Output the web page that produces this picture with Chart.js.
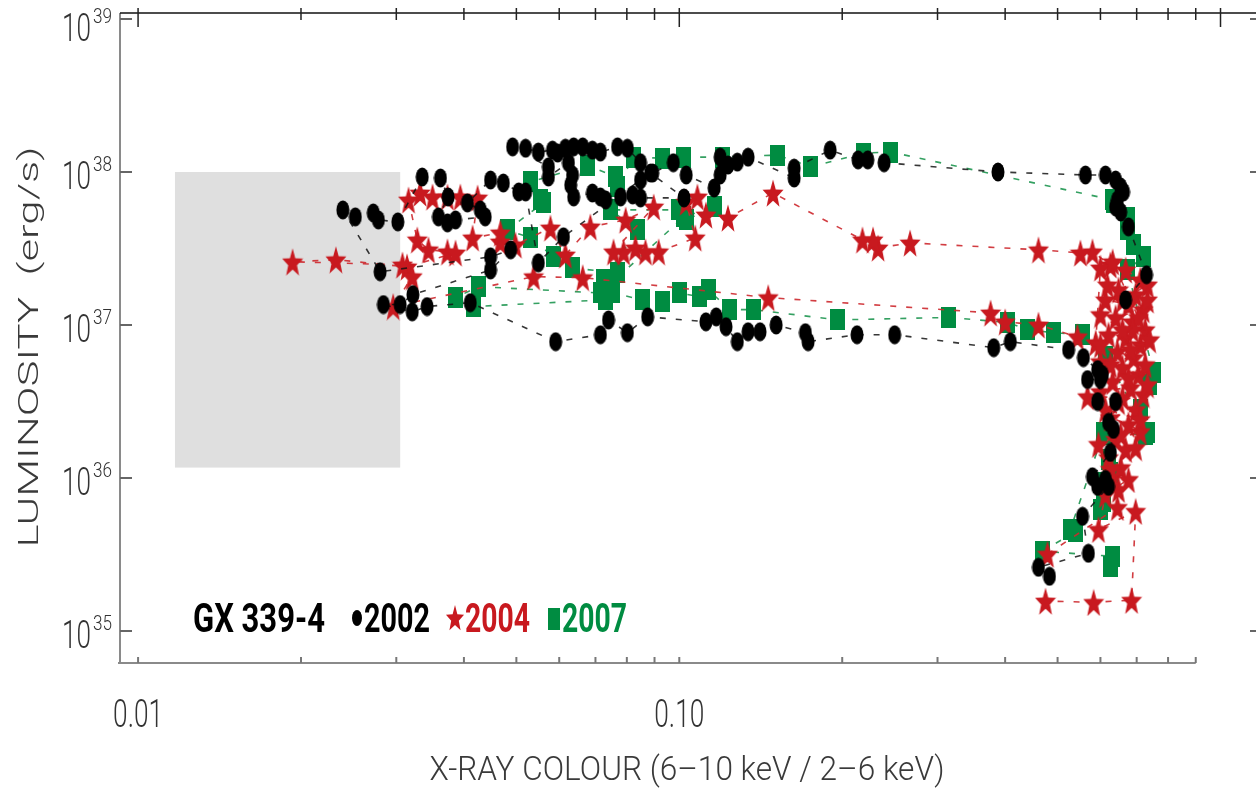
<!DOCTYPE html>
<html lang="en">
<head>
<meta charset="UTF-8" />
<title>GX 339-4 hardness-luminosity</title>
<script src="https://cdn.jsdelivr.net/npm/chart.js@4.4.0/dist/chart.umd.min.js"></script>
<style>
  html, body { margin: 0; background: #fff; overflow: hidden; }
  canvas { display: block; }
</style>
</head>
<body>
<canvas id="chart" width="1256" height="790"></canvas>
<script>
// X-ray colour (6-10 keV / 2-6 keV) and luminosity (erg/s)
const colour2002 = [0.668, 0.730, 0.676, 0.654, 0.640, 0.645, 0.662, 0.654, 0.640, 0.613, 0.563, 0.388, 0.239, 0.223, 0.214, 0.190, 0.163, 0.163, 0.134, 0.128,
  0.123, 0.119, 0.119, 0.116, 0.103, 0.0975, 0.0893, 0.0848, 0.0802, 0.0769, 0.0715, 0.0691, 0.0663, 0.0638, 0.0616, 0.0596, 0.0583, 0.0549, 0.0520, 0.0492,
  0.0573, 0.0573, 0.0624, 0.0635, 0.0630, 0.0638, 0.0691, 0.0715, 0.0731, 0.0779, 0.0820, 0.0848, 0.102, 0.0885, 0.0848, 0.0611, 0.0549, 0.0520, 0.0505, 0.0473,
  0.0448, 0.0406, 0.0429, 0.0438, 0.0386, 0.0373, 0.0359, 0.0374, 0.0362, 0.0335, 0.0302, 0.0278, 0.0272, 0.0252, 0.0239, 0.0280, 0.0448, 0.0488, 0.0448, 0.0322,
  0.0305, 0.0284, 0.0321, 0.0342, 0.0411, 0.0591, 0.0715, 0.0740, 0.0802, 0.0874, 0.112, 0.117, 0.122, 0.128, 0.134, 0.141, 0.151, 0.171, 0.173, 0.213,
  0.250, 0.381, 0.409, 0.524, 0.558, 0.593, 0.605, 0.568, 0.600, 0.593, 0.640, 0.621, 0.634, 0.626, 0.580, 0.613, 0.593, 0.621, 0.556, 0.570,
  0.461, 0.483]
const lum2002 = [1.46e37, 2.13e37, 4.38e37, 5.48e37, 5.91e37, 6.57e37, 7.41e37, 7.98e37, 8.87e37, 9.56e37, 9.56e37, 1.00e38, 1.15e38, 1.20e38, 1.20e38, 1.39e38, 1.06e38, 9.14e37, 1.25e38, 1.16e38,
  1.11e38, 1.25e38, 9.56e37, 7.86e37, 9.56e37, 1.15e38, 9.85e37, 1.15e38, 1.43e38, 1.46e38, 1.35e38, 1.39e38, 1.46e38, 1.46e38, 1.43e38, 1.33e38, 1.39e38, 1.35e38, 1.43e38, 1.46e38,
  1.08e38, 9.28e37, 1.15e38, 9.56e37, 8.23e37, 6.87e37, 7.29e37, 6.87e37, 6.57e37, 6.87e37, 7.08e37, 6.77e37, 6.77e37, 9.85e37, 8.87e37, 3.77e37, 2.55e37, 7.41e37, 7.41e37, 8.48e37,
  8.87e37, 6.28e37, 5.65e37, 5.09e37, 4.86e37, 4.65e37, 5.09e37, 6.87e37, 9.14e37, 9.28e37, 4.72e37, 4.86e37, 5.40e37, 5.09e37, 5.65e37, 2.23e37, 2.79e37, 3.10e37, 2.29e37, 1.58e37,
  1.36e37, 1.36e37, 1.22e37, 1.32e37, 1.40e37, 7.78e36, 8.64e36, 1.08e37, 8.91e36, 1.13e37, 1.05e37, 1.13e37, 9.75e36, 7.78e36, 9.04e36, 9.04e36, 1.00e37, 8.91e36, 7.78e36, 8.64e36,
  8.64e36, 7.11e36, 7.78e36, 6.90e36, 6.12e36, 5.11e36, 4.74e36, 4.40e36, 4.40e36, 3.16e36, 3.16e36, 2.31e36, 2.08e36, 1.47e36, 1.02e36, 9.79e35, 8.82e35, 8.82e35, 5.62e35, 3.22e35,
  2.61e35, 2.28e35]

const colour2004 = [0.479, 0.645, 0.648, 0.632, 0.654, 0.621, 0.668, 0.640, 0.711, 0.676, 0.626, 0.697, 0.648, 0.720, 0.682, 0.632, 0.705, 0.659, 0.600, 0.691,
  0.645, 0.711, 0.668, 0.621, 0.726, 0.688, 0.640, 0.720, 0.676, 0.613, 0.697, 0.648, 0.711, 0.668, 0.626, 0.580, 0.551, 0.461, 0.267, 0.233,
  0.228, 0.218, 0.149, 0.123, 0.112, 0.108, 0.103, 0.107, 0.0916, 0.0866, 0.0830, 0.0789, 0.0756, 0.0897, 0.0796, 0.0685, 0.0616, 0.0578, 0.0498, 0.0467,
  0.0467, 0.0415, 0.0424, 0.0394, 0.0373, 0.0350, 0.0332, 0.0316, 0.0328, 0.0344, 0.0373, 0.0386, 0.0314, 0.0232, 0.0193, 0.0308, 0.0321, 0.0296, 0.0538, 0.0663,
  0.146, 0.376, 0.400, 0.461, 0.544, 0.588, 0.600, 0.632, 0.705, 0.733, 0.659, 0.618, 0.733, 0.688, 0.600, 0.659, 0.600, 0.740, 0.682, 0.626,
  0.726, 0.676, 0.733, 0.600, 0.568, 0.659, 0.613, 0.711, 0.654, 0.595, 0.697, 0.626, 0.676, 0.613, 0.595, 0.697, 0.685, 0.583, 0.475]
const lum2004 = [3.18e35, 6.43e35, 8.43e35, 1.01e36, 1.17e36, 1.36e36, 1.54e36, 1.79e36, 2.01e36, 2.24e36, 2.48e36, 2.80e36, 3.16e36, 3.51e36, 3.90e36, 4.27e36, 4.74e36, 5.27e36, 5.76e36, 6.12e36,
  6.70e36, 7.44e36, 8.26e36, 8.64e36, 9.32e36, 1.05e37, 1.12e37, 1.26e37, 1.36e37, 1.46e37, 1.58e37, 1.70e37, 1.97e37, 2.29e37, 2.47e37, 3.01e37, 2.96e37, 3.10e37, 3.44e37, 3.19e37,
  3.60e37, 3.60e37, 7.29e37, 5.01e37, 5.24e37, 6.87e37, 6.37e37, 3.71e37, 3.01e37, 3.01e37, 3.19e37, 3.01e37, 3.01e37, 5.91e37, 4.86e37, 4.38e37, 2.87e37, 4.31e37, 3.34e37, 3.49e37,
  4.00e37, 3.71e37, 6.77e37, 6.87e37, 6.87e37, 6.87e37, 7.29e37, 6.57e37, 3.60e37, 3.10e37, 3.01e37, 2.96e37, 2.40e37, 2.67e37, 2.59e37, 2.47e37, 2.07e37, 1.32e37, 2.07e37, 2.04e37,
  1.51e37, 1.20e37, 1.05e37, 1.00e37, 8.38e36, 7.66e36, 2.36e37, 2.59e37, 1.12e37, 1.83e37, 1.46e37, 1.83e37, 1.46e37, 9.32e36, 7.44e36, 9.32e36, 1.17e37, 8.02e36, 6.90e36, 5.51e36,
  5.51e36, 4.53e36, 4.08e36, 3.67e36, 3.40e36, 3.36e36, 2.80e36, 2.41e36, 1.93e36, 1.66e36, 1.58e36, 1.14e36, 9.79e35, 7.82e35, 4.62e35, 6.06e35, 1.59e35, 1.54e35, 1.57e35]

const colour2007 = [0.626, 0.632, 0.469, 0.540, 0.600, 0.608, 0.600, 0.626, 0.621, 0.618, 0.726, 0.711, 0.740, 0.752, 0.673, 0.720, 0.691, 0.673, 0.673, 0.634,
  0.632, 0.246, 0.219, 0.175, 0.152, 0.120, 0.102, 0.0932, 0.0823, 0.0769, 0.0762, 0.0677, 0.0531, 0.0554, 0.0561, 0.0481, 0.0531, 0.0586, 0.0635, 0.0769,
  0.0724, 0.0837, 0.0746, 0.0996, 0.103, 0.116, 0.102, 0.0737, 0.0715, 0.0426, 0.0386, 0.0417, 0.0731, 0.0753, 0.0855, 0.0932, 0.100, 0.109, 0.113, 0.124,
  0.137, 0.196, 0.314, 0.404, 0.440, 0.491, 0.556, 0.613, 0.733, 0.608, 0.528]
const lum2007 = [2.65e35, 3.08e35, 3.32e35, 4.48e35, 6.24e35, 7.04e35, 9.36e35, 1.09e36, 1.32e36, 1.93e36, 1.93e36, 2.80e36, 4.08e36, 4.89e36, 2.29e37, 2.79e37, 3.34e37, 4.18e37, 5.01e37, 6.28e37,
  6.57e37, 1.35e38, 1.33e38, 1.08e38, 1.29e38, 1.25e38, 1.25e38, 1.23e38, 1.25e38, 7.98e37, 9.28e37, 1.11e38, 8.61e37, 6.57e37, 6.28e37, 4.18e37, 3.71e37, 2.79e37, 2.36e37, 2.19e37,
  1.97e37, 4.18e37, 5.65e37, 5.65e37, 4.86e37, 5.91e37, 5.09e37, 1.78e37, 1.62e37, 1.78e37, 1.51e37, 1.32e37, 1.46e37, 1.62e37, 1.46e37, 1.42e37, 1.62e37, 1.53e37, 1.70e37, 1.26e37,
  1.26e37, 1.08e37, 1.12e37, 1.04e37, 9.32e36, 8.91e36, 8.64e36, 6.21e36, 1.98e36, 1.98e36, 4.62e35]

const years = ['2002', '2004', '2007']
const sourceName = 'GX 339-4'
const xTickValues = [0.01, 0.1]
const xTickLabels = ['0.01', '0.10']
const yTickPowers = [35, 36, 37, 38, 39]
const xTitle = 'X-RAY COLOUR (6\u201310 keV / 2\u20136 keV)'
const yTitle = 'LUMINOSITY  (erg/s)'
// shaded region
const boxColour = [0.0117, 0.0305]
const boxLum = [1.17e36, 1.0e38]

const BLACK = '#000000'
const RED = '#c8191f'
const GREEN = '#008c41'
const THIN = '300 38px Roboto, "Liberation Sans", sans-serif'

function makeMarker(w, h, draw) {
  const c = document.createElement('canvas')
  c.width = w
  c.height = h
  draw(c.getContext('2d'), w, h)
  return c
}
function starPath(g, cx, cy, rx, ry) {
  g.beginPath()
  for (let i = 0; i < 10; i++) {
    const r = i % 2 === 0 ? 1 : 0.42
    const a = -Math.PI / 2 + i * Math.PI / 5
    g.lineTo(cx + Math.cos(a) * rx * r, cy + Math.sin(a) * ry * r)
  }
  g.closePath()
}
const ellipseMark = makeMarker(14, 20, (g, w, h) => {
  g.fillStyle = BLACK
  g.beginPath()
  g.ellipse(w / 2, h / 2, w / 2 - 0.5, h / 2 - 0.5, 0, 0, Math.PI * 2)
  g.fill()
})
const starMark = makeMarker(22, 28, (g, w, h) => {
  g.fillStyle = RED
  starPath(g, w / 2, h / 2 + 1.5, w / 2, h / 2 + 1)
  g.fill()
})
const squareMark = makeMarker(15, 21, (g, w, h) => {
  g.fillStyle = GREEN
  g.fillRect(0, 0, w, h)
})

function series(xs, ys, mark, lineColour) {
  return {
    data: xs.map((x, i) => ({ x: x, y: ys[i] })),
    showLine: true,
    borderColor: lineColour,
    borderWidth: 1.6,
    borderDash: [6, 10],
    pointStyle: mark,
    pointRadius: 10,
    pointHoverRadius: 10,
  }
}

function fitText(ctx, text, x, y, width, font, align) {
  ctx.font = font
  const s = width / ctx.measureText(text).width
  ctx.save()
  ctx.translate(x, y)
  ctx.scale(s, 1)
  ctx.textAlign = align
  ctx.textBaseline = 'alphabetic'
  ctx.fillText(text, 0, 0)
  ctx.restore()
}

const decor = {
  id: 'decor',
  beforeDatasetsDraw(chart) {
    const { ctx, scales: { x, y } } = chart
    const x0 = x.getPixelForValue(boxColour[0])
    const x1 = x.getPixelForValue(boxColour[1])
    const y0 = y.getPixelForValue(boxLum[1])
    const y1 = y.getPixelForValue(boxLum[0])
    ctx.save()
    ctx.fillStyle = '#dfdfdf'
    ctx.fillRect(x0, y0, x1 - x0, y1 - y0)
    ctx.restore()
  },
  afterDraw(chart) {
    const { ctx, chartArea: a, scales: { x, y } } = chart
    ctx.save()
    ctx.lineCap = 'butt'

    // frame
    const xEnd = x.getPixelForValue(0.9)
    ctx.strokeStyle = '#8a8a8a'
    ctx.lineWidth = 2
    ctx.beginPath()
    ctx.moveTo(a.left, a.top)
    ctx.lineTo(a.left, a.bottom)
    ctx.moveTo(a.left - 2, a.bottom)
    ctx.lineTo(xEnd, a.bottom)
    ctx.stroke()
    ctx.strokeStyle = '#111'
    ctx.lineWidth = 1.5
    ctx.beginPath()
    ctx.moveTo(a.left, a.top)
    ctx.lineTo(a.right, a.top)
    ctx.stroke()

    // x ticks, bottom and top
    for (let d = 0.01; d < 2; d *= 10) {
      for (let m = 1; m <= 9; m++) {
        const v = d * m
        const px = x.getPixelForValue(v)
        if (px > a.right) continue
        if (v <= 0.9001) {
          ctx.strokeStyle = '#777'
          ctx.lineWidth = 2
          ctx.beginPath()
          ctx.moveTo(px, a.bottom)
          ctx.lineTo(px, a.bottom - 6)
          ctx.stroke()
        }
        ctx.strokeStyle = '#222'
        ctx.lineWidth = 1.5
        ctx.beginPath()
        ctx.moveTo(px, a.top - 5)
        ctx.lineTo(px, a.top + (m === 1 ? 14 : 7))
        ctx.stroke()
      }
    }

    // y ticks, left and right
    ctx.strokeStyle = '#666'
    ctx.lineWidth = 2
    yTickPowers.forEach(p => {
      const py = y.getPixelForValue(Math.pow(10, p))
      ctx.beginPath()
      ctx.moveTo(a.left, py)
      ctx.lineTo(a.left + 12, py)
      ctx.moveTo(a.right - 6, py)
      ctx.lineTo(a.right, py)
      ctx.stroke()
    })

    // y tick labels: 10 with superscript power
    ctx.fillStyle = '#333'
    yTickPowers.forEach(p => {
      const py = y.getPixelForValue(Math.pow(10, p))
      const base = Math.max(py + 17, 41)
      fitText(ctx, '10', 91, base, 29, THIN, 'right')
      fitText(ctx, String(p), 93, base - 18, 19, '300 21px Roboto, "Liberation Sans", sans-serif', 'left')
    })

    // x tick labels
    xTickValues.forEach((v, i) => {
      fitText(ctx, xTickLabels[i], x.getPixelForValue(v), 727, 50, THIN, 'center')
    })

    // axis titles
    ctx.fillStyle = '#3a3a3a'
    fitText(ctx, xTitle, 687, 780, 515, '300 34px Roboto, "Liberation Sans", sans-serif', 'center')
    ctx.save()
    ctx.translate(38, 347)
    ctx.rotate(-Math.PI / 2)
    fitText(ctx, yTitle, 0, 0, 401, '300 28px Roboto, "Liberation Sans", sans-serif', 'center')
    ctx.restore()

    // legend
    const LEG = 'bold 40px Roboto, "Liberation Sans", sans-serif'
    ctx.fillStyle = BLACK
    fitText(ctx, sourceName, 193, 632, 132, LEG, 'left')
    ctx.beginPath()
    ctx.ellipse(357, 618, 5, 8, 0, 0, Math.PI * 2)
    ctx.fill()
    fitText(ctx, years[0], 364, 632, 66, LEG, 'left')
    ctx.fillStyle = RED
    starPath(ctx, 455, 619, 9.5, 14)
    ctx.fill()
    fitText(ctx, years[1], 465, 632, 65, LEG, 'left')
    ctx.fillStyle = GREEN
    ctx.fillRect(548, 608, 12, 22)
    fitText(ctx, years[2], 562, 632, 65, LEG, 'left')

    ctx.restore()
  }
}

new Chart(document.getElementById('chart').getContext('2d'), {
  type: 'scatter',
  data: {
    datasets: [
      series(colour2002, lum2002, ellipseMark, 'rgba(20,20,20,0.85)'),
      series(colour2004, lum2004, starMark, 'rgba(205,40,45,0.9)'),
      series(colour2007, lum2007, squareMark, 'rgba(30,150,80,0.9)'),
    ],
  },
  options: {
    responsive: false,
    animation: false,
    layout: { autoPadding: false, padding: { left: 120, right: 0, top: 13, bottom: 127 } },
    plugins: { legend: { display: false }, tooltip: { enabled: false } },
    scales: {
      x: { type: 'logarithmic', bounds: 'data', min: 0.00926, max: 1.163, display: false },
      y: { type: 'logarithmic', bounds: 'data', min: 6.18e34, max: 1.094e39, display: false },
    },
  },
  plugins: [decor],
})
</script>
</body>
</html>
